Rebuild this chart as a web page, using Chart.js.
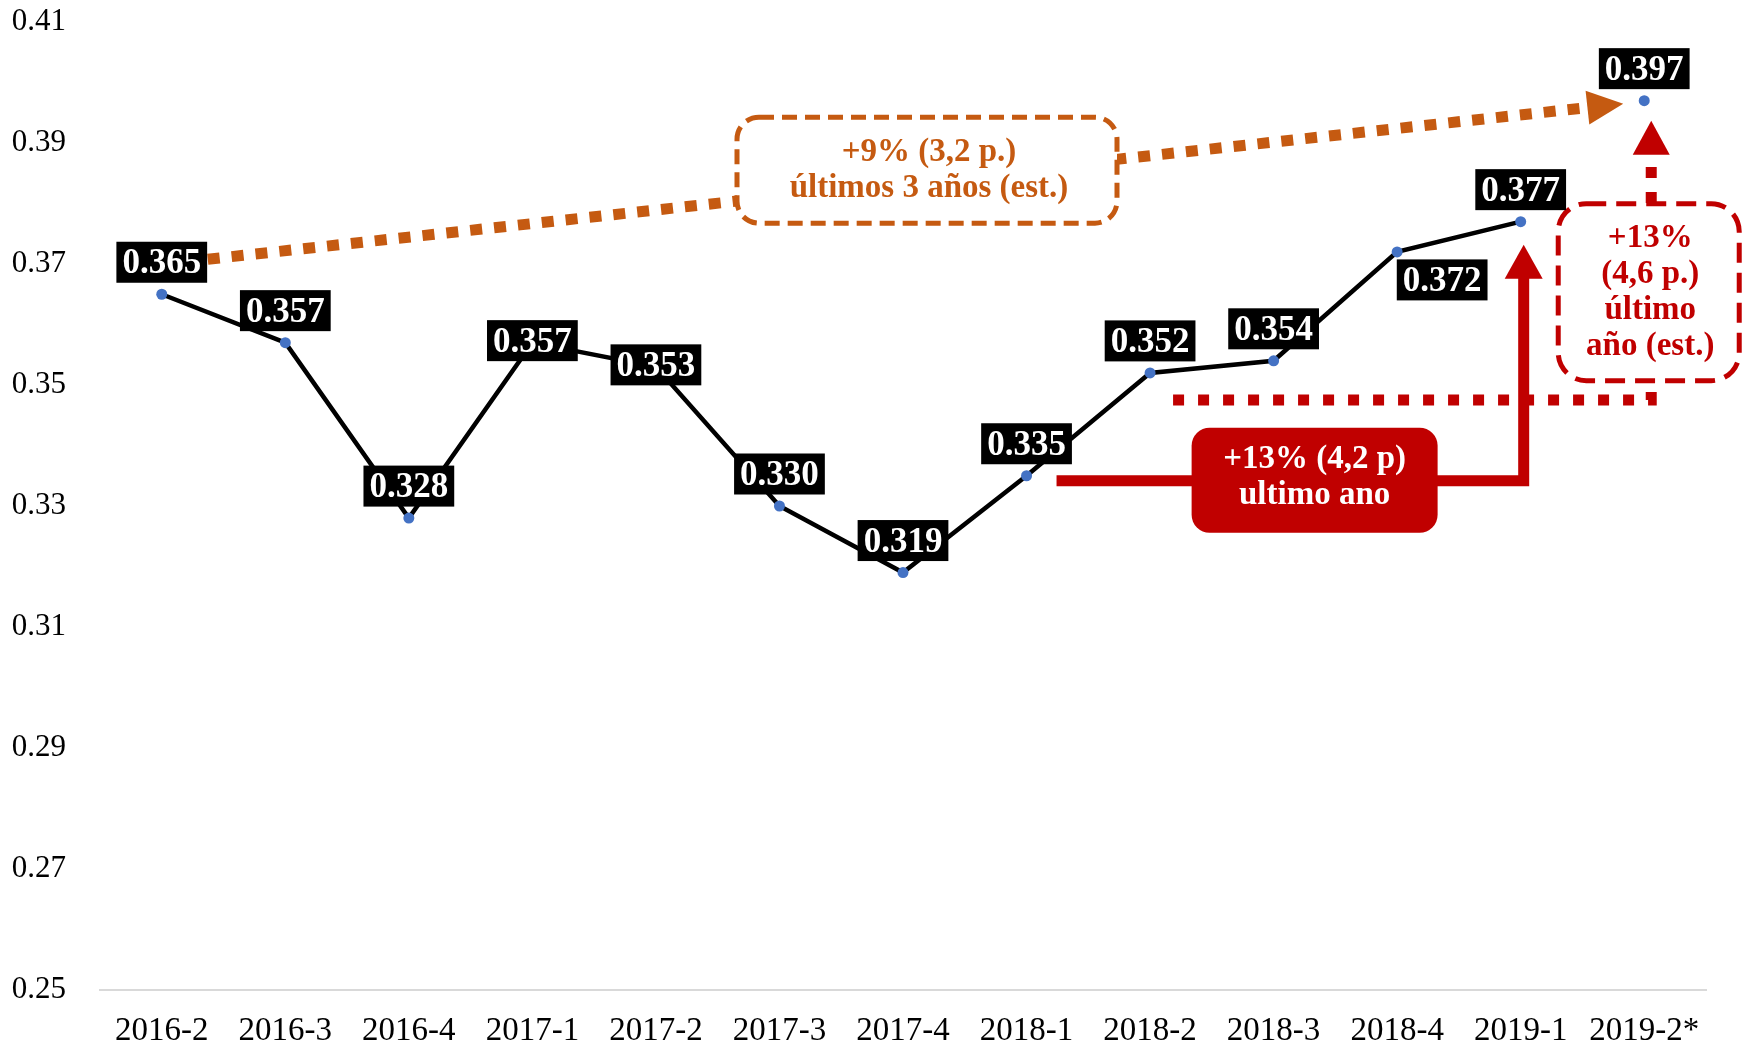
<!DOCTYPE html>
<html>
<head>
<meta charset="utf-8">
<script src="https://cdn.jsdelivr.net/npm/chart.js@4.4.1/dist/chart.umd.min.js"></script>
<style>
  html, body { margin: 0; padding: 0; background: #fff; }
</style>
</head>
<body>
<canvas id="grafico" width="1743" height="1041"></canvas>
<script>
const periodos = ['2016-2', '2016-3', '2016-4', '2017-1', '2017-2', '2017-3', '2017-4',
  '2018-1', '2018-2', '2018-3', '2018-4', '2019-1', '2019-2*'];
const valores = [0.365, 0.357, 0.328, 0.357, 0.353, 0.330, 0.319, 0.335, 0.352, 0.354, 0.372, 0.377, 0.397];
const ticksY = [0.25, 0.27, 0.29, 0.31, 0.33, 0.35, 0.37, 0.39, 0.41];
// onde fica cada rotulo em relacao ao ponto
const posRotulo = ['cima', 'cima', 'cima', 'centro', 'centro', 'cima', 'cima',
  'cima', 'cima', 'cima', 'baixo', 'cima', 'cima'];

const LARANJA = '#C55A11';
const VERMELHO = '#C00000';
const FONTE = "'Liberation Serif', 'Times New Roman', serif";

function caixaArredondada(ctx, x, y, w, h, r) {
  ctx.beginPath();
  ctx.moveTo(x + r, y);
  ctx.lineTo(x + w - r, y);
  ctx.arcTo(x + w, y, x + w, y + r, r);
  ctx.lineTo(x + w, y + h - r);
  ctx.arcTo(x + w, y + h, x + w - r, y + h, r);
  ctx.lineTo(x + r, y + h);
  ctx.arcTo(x, y + h, x, y + h - r, r);
  ctx.lineTo(x, y + r);
  ctx.arcTo(x, y, x + r, y, r);
  ctx.closePath();
}

function ponta(ctx, x0, y0, x1, y1, comp, larg, cor) {
  // triangulo com a ponta em (x1,y1)
  const a = Math.atan2(y1 - y0, x1 - x0);
  ctx.save();
  ctx.setLineDash([]);
  ctx.fillStyle = cor;
  ctx.beginPath();
  ctx.moveTo(x1, y1);
  ctx.lineTo(x1 - comp * Math.cos(a) + larg / 2 * Math.sin(a), y1 - comp * Math.sin(a) - larg / 2 * Math.cos(a));
  ctx.lineTo(x1 - comp * Math.cos(a) - larg / 2 * Math.sin(a), y1 - comp * Math.sin(a) + larg / 2 * Math.cos(a));
  ctx.closePath();
  ctx.fill();
  ctx.restore();
}

function textos(ctx, linhas, cx, cy, cor) {
  ctx.fillStyle = cor;
  ctx.font = 'bold 33px ' + FONTE;
  ctx.textAlign = 'center';
  ctx.textBaseline = 'middle';
  const passo = 36;
  linhas.forEach((t, i) => {
    ctx.fillText(t, cx, cy + (i - (linhas.length - 1) / 2) * passo);
  });
}

const anotacoes = {
  id: 'anotacoes',
  afterDatasetsDraw(chart) {
    const ctx = chart.ctx;
    const pts = chart.getDatasetMeta(0).data;
    const p = i => ({ x: pts[i].x, y: pts[i].y });
    ctx.save();

    // seta laranja pontilhada (ultimos 3 anos)
    const ini = { x: p(0).x + 46, y: p(0).y - 35 };
    const fim = { x: p(12).x - 21, y: p(12).y + 3 };
    const ang = Math.atan2(fim.y - ini.y, fim.x - ini.x);
    ctx.strokeStyle = LARANJA;
    ctx.lineWidth = 11;
    ctx.setLineDash([12, 12]);
    ctx.beginPath();
    ctx.moveTo(ini.x, ini.y);
    ctx.lineTo(fim.x - 34 * Math.cos(ang), fim.y - 34 * Math.sin(ang));
    ctx.stroke();
    ponta(ctx, ini.x, ini.y, fim.x, fim.y, 36, 34, LARANJA);

    // caixa laranja
    const bx = p(6).x + 24;
    const by = ini.y + (bx - ini.x) * Math.tan(ang) - 10;
    caixaArredondada(ctx, bx - 190, by - 53, 380, 106, 22);
    ctx.fillStyle = '#fff';
    ctx.fill();
    ctx.setLineDash([15, 8]);
    ctx.lineWidth = 5;
    ctx.strokeStyle = LARANJA;
    ctx.stroke();
    textos(ctx, ['+9% (3,2 p.)', 'últimos 3 años (est.)'], bx + 2, by, LARANJA);

    // seta vermelha cheia (ultimo ano)
    const hy = p(7).y + 5;
    const vx = p(11).x + 3;
    ctx.setLineDash([]);
    ctx.strokeStyle = VERMELHO;
    ctx.lineWidth = 11;
    ctx.beginPath();
    ctx.moveTo(p(7).x + 30, hy);
    ctx.lineTo(vx, hy);
    ctx.lineTo(vx, p(11).y + 56);
    ctx.stroke();
    ponta(ctx, vx, hy, vx, p(11).y + 23, 34, 38, VERMELHO);

    const rx = p(9).x + 41;
    caixaArredondada(ctx, rx - 123, hy - 53, 246, 105, 18);
    ctx.fillStyle = VERMELHO;
    ctx.fill();
    textos(ctx, ['+13% (4,2 p)', 'ultimo ano'], rx, hy - 3, '#fff');

    // seta vermelha pontilhada (estimativa)
    const dy = p(8).y + 27;
    const dx = p(12).x + 7;
    ctx.strokeStyle = VERMELHO;
    ctx.lineWidth = 11;
    ctx.setLineDash([11, 14]);
    ctx.beginPath();
    ctx.moveTo(p(8).x + 23, dy);
    ctx.lineTo(dx, dy);
    ctx.lineTo(dx, p(12).y + 54);
    ctx.stroke();
    ponta(ctx, dx, dy, dx, p(12).y + 20, 34, 37, VERMELHO);

    // caixa vermelha tracejada
    const cx = dx - 3;
    const cy = p(12).y + 191;
    caixaArredondada(ctx, cx - 90, cy - 88, 181, 177, 28);
    ctx.fillStyle = '#fff';
    ctx.fill();
    ctx.setLineDash([20, 10]);
    ctx.lineWidth = 5;
    ctx.strokeStyle = VERMELHO;
    ctx.stroke();
    textos(ctx, ['+13%', '(4,6 p.)', 'último', 'año (est.)'], cx + 2, cy + 1, VERMELHO);

    // rotulos dos valores
    ctx.setLineDash([]);
    ctx.font = 'bold 35px ' + FONTE;
    ctx.textAlign = 'center';
    ctx.textBaseline = 'middle';
    valores.forEach((v, i) => {
      const t = v.toFixed(3);
      const w = ctx.measureText(t).width + 12;
      const h = 41;
      let x = pts[i].x, y = pts[i].y - 32;
      if (posRotulo[i] === 'centro') y = pts[i].y - 2;
      if (posRotulo[i] === 'baixo') { x = pts[i].x + 45; y = pts[i].y + 28; }
      ctx.fillStyle = '#000';
      ctx.fillRect(x - w / 2, y - h / 2, w, h);
      ctx.fillStyle = '#fff';
      ctx.fillText(t, x, y + 2);
    });
    ctx.restore();
  }
};

new Chart(document.getElementById('grafico'), {
  type: 'line',
  data: {
    labels: periodos,
    datasets: [{
      data: valores,
      borderColor: '#000',
      borderWidth: 4.5,
      pointRadius: 5.5,
      pointBackgroundColor: '#4472C4',
      pointBorderWidth: 0,
      tension: 0,
      segment: {
        // o ultimo ponto (estimado) nao e ligado
        borderColor: c => c.p1DataIndex === valores.length - 1 ? 'rgba(0,0,0,0)' : '#000'
      }
    }]
  },
  options: {
    responsive: false,
    devicePixelRatio: 1,
    animation: false,
    layout: { padding: { top: 22, right: 37, left: 0, bottom: 0 } },
    plugins: {
      legend: { display: false },
      tooltip: { enabled: false }
    },
    scales: {
      x: {
        offset: true,
        grid: { display: false },
        border: { display: true, color: '#d9d9d9', width: 2 },
        ticks: {
          color: '#000',
          font: { family: FONTE, size: 33 },
          padding: 14,
          maxRotation: 0,
          autoSkip: false
        },
        afterFit: s => { s.height = 51; }
      },
      y: {
        min: 0.25,
        max: 0.41,
        grid: { display: false },
        border: { display: false },
        afterBuildTicks: s => { s.ticks = ticksY.map(v => ({ value: v })); },
        ticks: {
          color: '#000',
          font: { family: FONTE, size: 31 },
          padding: 26,
          callback: v => v.toFixed(2)
        },
        afterFit: s => { s.width = 100; s.paddingTop = 0; s.paddingBottom = 0; }
      }
    }
  },
  plugins: [anotacoes]
});
</script>
</body>
</html>
